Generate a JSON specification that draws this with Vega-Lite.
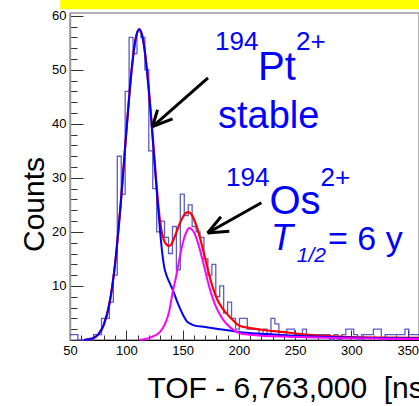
{
  "$schema": "https://vega.github.io/schema/vega-lite/v6.json",
  "width": 349,
  "height": 327,
  "autosize": "none",
  "padding": {"left": 70, "top": 13, "right": 0, "bottom": 66},
  "background": "white",
  "config": {
    "view": {"stroke": "#999999", "strokeWidth": 1.5},
    "font": "Liberation Sans"
  },
  "datasets": {
    "hist": [
      {"x":50,"y":1},{"x":53.5,"y":1},{"x":57,"y":0},{"x":60.5,"y":0},{"x":64,"y":0},{"x":67.5,"y":0},{"x":71,"y":1},{"x":74.5,"y":1},
      {"x":78,"y":4},{"x":81.5,"y":4},{"x":85,"y":7},{"x":88.5,"y":12},{"x":92,"y":34},{"x":95.5,"y":27},{"x":99,"y":46},{"x":102.5,"y":56},
      {"x":106,"y":53},{"x":109.5,"y":57},{"x":113,"y":56},{"x":116.5,"y":50},{"x":120,"y":35},{"x":123.5,"y":28},{"x":127,"y":20},{"x":130.5,"y":22},
      {"x":134,"y":19},{"x":137.5,"y":16},{"x":141,"y":21},{"x":144.5,"y":13},{"x":148,"y":27},{"x":151.5,"y":23},{"x":155,"y":25},{"x":158.5,"y":21},
      {"x":162,"y":20},{"x":165.5,"y":19},{"x":169,"y":15},{"x":172.5,"y":12},{"x":176,"y":14},{"x":179.5,"y":8},{"x":183,"y":10},{"x":186.5,"y":5},
      {"x":190,"y":7},{"x":193.5,"y":4},{"x":197,"y":2},{"x":200.5,"y":4},{"x":204,"y":4},{"x":207.5,"y":2},{"x":211,"y":2},{"x":214.5,"y":2},
      {"x":218,"y":1},{"x":221.5,"y":2},{"x":225,"y":1},{"x":228.5,"y":4},{"x":232,"y":3},{"x":235.5,"y":1},{"x":239,"y":1},{"x":242.5,"y":2},
      {"x":246,"y":2},{"x":249.5,"y":1},{"x":253,"y":1},{"x":256.5,"y":2},{"x":260,"y":1},{"x":263.5,"y":1},{"x":267,"y":1},{"x":270.5,"y":1},
      {"x":274,"y":1},{"x":277.5,"y":1},{"x":281,"y":0},{"x":284.5,"y":1},{"x":288,"y":0},{"x":291.5,"y":1},{"x":295,"y":2},{"x":298.5,"y":2},
      {"x":302,"y":1},{"x":305.5,"y":0},{"x":309,"y":1},{"x":312.5,"y":1},{"x":316,"y":1},{"x":319.5,"y":2},{"x":323,"y":2},{"x":326.5,"y":0},
      {"x":330,"y":1},{"x":333.5,"y":1},{"x":337,"y":1},{"x":340.5,"y":1},{"x":344,"y":1},{"x":347.5,"y":2},{"x":351,"y":1},{"x":354.5,"y":1},
      {"x":358,"y":1},{"x":360,"y":1}
    ],
    "blue": [
      {"x":62.5,"y":0},{"x":65,"y":0.08},{"x":68,"y":0.2},{"x":70,"y":0.3},{"x":75,"y":1.0},{"x":80,"y":2.8},{"x":85,"y":6.7},{"x":90,"y":14.0},
      {"x":95,"y":25.1},{"x":100,"y":38.4},{"x":105,"y":50.5},{"x":108,"y":55.4},{"x":111.5,"y":57.5},{"x":115,"y":55.4},{"x":118,"y":50.5},
      {"x":120,"y":46.1},{"x":122,"y":41.1},{"x":124,"y":35.7},{"x":126,"y":30.3},{"x":128,"y":25.1},{"x":130,"y":20.2},{"x":132,"y":16.0},
      {"x":134,"y":13.2},{"x":136,"y":11.8},{"x":138,"y":10.8},{"x":140,"y":9.9},{"x":142,"y":8.9},{"x":145,"y":7.2},{"x":148,"y":5.7},
      {"x":151,"y":4.4},{"x":154,"y":3.4},{"x":157,"y":3.0},{"x":160,"y":2.7},{"x":170,"y":2.4},{"x":180,"y":2.1},{"x":190,"y":1.8},
      {"x":200,"y":1.5},{"x":220,"y":1.15},{"x":240,"y":0.9},{"x":260,"y":0.7},{"x":280,"y":0.55},{"x":300,"y":0.45},{"x":320,"y":0.38},
      {"x":340,"y":0.32},{"x":360,"y":0.28}
    ],
    "magenta": [
      {"x":112,"y":0},{"x":116,"y":0.15},{"x":120,"y":0.35},{"x":125,"y":0.8},{"x":130,"y":1.5},{"x":134,"y":2.8},{"x":138,"y":5.2},
      {"x":141,"y":8.6},{"x":144,"y":11.5},{"x":147,"y":14.8},{"x":150,"y":17.8},{"x":153,"y":19.8},{"x":156,"y":20.7},{"x":159,"y":20.3},
      {"x":162,"y":19.0},{"x":165,"y":17.0},{"x":168,"y":14.6},{"x":171,"y":12.0},{"x":174,"y":9.6},{"x":177,"y":7.6},{"x":180,"y":6.0},
      {"x":184,"y":4.4},{"x":188,"y":3.2},{"x":193,"y":2.2},{"x":200,"y":1.3},{"x":210,"y":0.95},{"x":220,"y":0.8},{"x":240,"y":0.65},
      {"x":260,"y":0.5},{"x":280,"y":0.4},{"x":300,"y":0.32},{"x":330,"y":0.25},{"x":360,"y":0.2}
    ],
    "red": [
      {"x":62.5,"y":0},{"x":65,"y":0.08},{"x":68,"y":0.2},{"x":70,"y":0.3},{"x":75,"y":1.0},{"x":80,"y":2.8},{"x":85,"y":6.7},{"x":90,"y":14.0},
      {"x":95,"y":25.1},{"x":100,"y":38.4},{"x":105,"y":50.5},{"x":108,"y":55.4},{"x":111.5,"y":57.5},{"x":115,"y":55.5},{"x":118,"y":50.7},
      {"x":120,"y":46.4},{"x":122,"y":41.6},{"x":124,"y":36.3},{"x":126,"y":31.0},{"x":128,"y":26.0},{"x":130,"y":22.0},{"x":132,"y":19.5},
      {"x":134,"y":18.2},{"x":136,"y":17.6},{"x":138,"y":17.4},{"x":140,"y":17.7},{"x":142,"y":18.6},{"x":145,"y":20.2},{"x":148,"y":21.8},
      {"x":151,"y":23.0},{"x":154,"y":23.6},{"x":156,"y":23.6},{"x":158,"y":23.2},{"x":160,"y":22.4},{"x":163,"y":20.7},{"x":166,"y":18.5},
      {"x":169,"y":16.0},{"x":172,"y":13.4},{"x":175,"y":11.0},{"x":178,"y":9.0},{"x":181,"y":7.4},{"x":185,"y":6.0},{"x":190,"y":4.7},
      {"x":195,"y":3.6},{"x":200,"y":2.7},{"x":210,"y":2.2},{"x":220,"y":1.9},{"x":240,"y":1.45},{"x":260,"y":1.0},{"x":280,"y":0.7},
      {"x":300,"y":0.55},{"x":330,"y":0.45},{"x":360,"y":0.4}
    ],
    "arrows": [
      {"x":123.3,"y":39.5,"x2":172.6,"y2":48.5},
      {"x":123.3,"y":39.5,"x2":127.8,"y2":42.6},
      {"x":123.3,"y":39.5,"x2":141.1,"y2":40.9},
      {"x":172.2,"y":19.8,"x2":220.0,"y2":25.4},
      {"x":172.2,"y":19.8,"x2":184.1,"y2":22.8},
      {"x":172.2,"y":19.8,"x2":191.5,"y2":20.1}
    ],
    "band": [{"x":41.3,"x2":360,"y":61.2,"y2":63.0}],
    "mainText": [
      {"x":217.0,"y":48.1,"t":"Pt"},
      {"x":227.1,"y":23.3,"t":"Os"}
    ],
    "stableText": [
      {"x":181.5,"y":39.2,"t":"stable"}
    ],
    "eqText": [
      {"x":279.2,"y":16.65,"t":"= 6 y"}
    ],
    "supText": [
      {"x":178.8,"y":53.7,"t":"194"},
      {"x":250.7,"y":53.7,"t":"2+"},
      {"x":188.6,"y":28.4,"t":"194"},
      {"x":272.5,"y":28.4,"t":"2+"}
    ],
    "italicT": [{"x":228.5,"y":16.65,"t":"T"}],
    "subText": [{"x":251.5,"y":14.4,"t":"1/2"}]
  },
  "encoding": {
    "x": {
      "field": "x", "type": "quantitative",
      "scale": {"domain": [50, 360], "nice": false, "zero": false},
      "axis": {
        "values": [50,60,70,80,90,100,110,120,130,140,150,160,170,180,190,200,210,220,230,240,250,260,270,280,290,300,310,320,330,340,350],
        "labelExpr": "datum.value % 50 === 0 ? datum.label : ''",
        "tickSize": {"condition": {"test": "datum.value % 50 === 0", "value": -10}, "value": -5},
        "tickColor": "#333333",
        "domainColor": "#000000",
        "labelPadding": 14,
        "labelFontSize": 13,
        "labelColor": "#000000",
        "labelFlush": false,
        "grid": false,
        "title": "TOF - 6,763,000\u00a0\u00a0[ns]",
        "titleFontSize": 30,
        "titleFontWeight": "normal",
        "titleColor": "#000000",
        "titleAnchor": "start",
        "titleAlign": "left",
        "titleBaseline": "alphabetic",
        "titleX": 77,
        "titleY": 57
      }
    },
    "y": {
      "field": "y", "type": "quantitative",
      "scale": {"domain": [0, 60.5], "nice": false, "zero": true},
      "axis": {
        "values": [0,2,4,6,8,10,12,14,16,18,20,22,24,26,28,30,32,34,36,38,40,42,44,46,48,50,52,54,56,58,60],
        "labelExpr": "datum.value % 10 === 0 && datum.value > 0 ? datum.label : ''",
        "tickSize": {"condition": {"test": "datum.value % 10 === 0", "value": -13}, "value": -7},
        "tickColor": "#333333",
        "domainColor": "#999999",
        "domainWidth": 1.5,
        "labelPadding": 17,
        "labelFontSize": 13,
        "labelColor": "#000000",
        "labelFlush": false,
        "grid": false,
        "title": "Counts",
        "titleFontSize": 30,
        "titleFontWeight": "normal",
        "titleColor": "#000000",
        "titleAngle": -90,
        "titleAlign": "center",
        "titleBaseline": "middle",
        "titleX": -36,
        "titleY": 191
      }
    }
  },
  "layer": [
    {
      "data": {"name": "band"},
      "mark": {"type": "rect", "color": "#ffff00", "clip": false},
      "encoding": {"x2": {"field": "x2"}, "y2": {"field": "y2"}}
    },
    {
      "data": {"name": "hist"},
      "mark": {"type": "line", "interpolate": "step-after", "color": "#4040c0", "strokeWidth": 1.3, "opacity": 0.85}
    },
    {
      "data": {"name": "red"},
      "mark": {"type": "line", "color": "#ff0000", "strokeWidth": 2.2, "interpolate": "monotone"}
    },
    {
      "data": {"name": "blue"},
      "mark": {"type": "line", "color": "#0000ff", "strokeWidth": 2, "interpolate": "monotone"}
    },
    {
      "data": {"name": "magenta"},
      "mark": {"type": "line", "color": "#ff00ff", "strokeWidth": 2, "interpolate": "monotone"}
    },
    {
      "data": {"name": "arrows"},
      "mark": {"type": "rule", "color": "#000000", "strokeWidth": 3},
      "encoding": {"x2": {"field": "x2"}, "y2": {"field": "y2"}}
    },
    {
      "data": {"name": "mainText"},
      "mark": {"type": "text", "color": "#0000ff", "fontSize": 40, "align": "left", "baseline": "alphabetic"},
      "encoding": {"text": {"field": "t"}}
    },
    {
      "data": {"name": "stableText"},
      "mark": {"type": "text", "color": "#0000ff", "fontSize": 38, "align": "left", "baseline": "alphabetic"},
      "encoding": {"text": {"field": "t"}}
    },
    {
      "data": {"name": "eqText"},
      "mark": {"type": "text", "color": "#0000ff", "fontSize": 34, "align": "left", "baseline": "alphabetic"},
      "encoding": {"text": {"field": "t"}}
    },
    {
      "data": {"name": "supText"},
      "mark": {"type": "text", "color": "#0000ff", "fontSize": 26, "align": "left", "baseline": "alphabetic"},
      "encoding": {"text": {"field": "t"}}
    },
    {
      "data": {"name": "italicT"},
      "mark": {"type": "text", "color": "#0000ff", "fontSize": 36, "fontStyle": "italic", "align": "left", "baseline": "alphabetic"},
      "encoding": {"text": {"field": "t"}}
    },
    {
      "data": {"name": "subText"},
      "mark": {"type": "text", "color": "#0000ff", "fontSize": 21, "fontStyle": "italic", "align": "left", "baseline": "alphabetic"},
      "encoding": {"text": {"field": "t"}}
    }
  ]
}
